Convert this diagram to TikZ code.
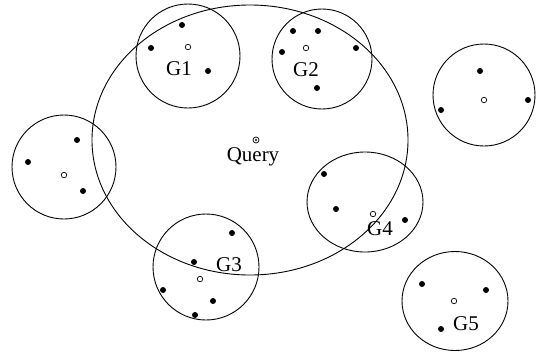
\documentclass[tikz,border=0pt]{standalone}
\usepackage{fontspec}
\setmainfont{Liberation Serif}
\usetikzlibrary{shapes.geometric}
\begin{document}
\begin{tikzpicture}[x=1pt,y=-1pt,
  group/.style={draw,line width=0.9pt,circle,inner sep=0pt},
  full/.style={circle,fill=black,inner sep=0pt,minimum size=6pt},
  hollow/.style={circle,draw,line width=0.7pt,inner sep=0pt,minimum size=5.5pt},
  lbl/.style={font=\fontsize{21}{21}\selectfont,inner sep=0pt}]
\useasboundingbox (0,0) rectangle (537,354);
% query region
\node[draw,line width=0.9pt,ellipse,minimum width=316pt,minimum height=270pt,inner sep=0pt] (range) at (250,140) {};
\node[hollow,minimum size=6pt] (q) at (256,140) {};
\fill (q) circle (1.2pt);
\node[lbl] (qlabel) at (253,157) {Query};
% G1
\node[group,minimum size=104pt] (g1) at (188,56) {};
\node[hollow] (c1) at (188,47) {};
\node[full] (a1) at (182,25) {};
\node[full] (a2) at (151,48) {};
\node[full] (a3) at (208,71) {};
\node[lbl] (l1) at (179,69) {G1};
% G2
\node[group,minimum size=100pt] (g2) at (322,59) {};
\node[hollow] (c2) at (306,48) {};
\node[full] (b1) at (293,31) {};
\node[full] (b2) at (318,31) {};
\node[full] (b3) at (356,48) {};
\node[full] (b4) at (282,52) {};
\node[full] (b5) at (317,88) {};
\node[lbl] (l2) at (306,70) {G2};
% left group
\node[group,minimum size=104pt] (g6) at (64,167) {};
\node[hollow] (c6) at (64,175) {};
\node[full] (d1) at (77,140) {};
\node[full] (d2) at (28,162) {};
\node[full] (d3) at (83,191) {};
% upper right group
\node[group,minimum size=102pt] (g7) at (484,95) {};
\node[hollow] (c7) at (484,100) {};
\node[full] (e1) at (480,71) {};
\node[full] (e2) at (441,110) {};
\node[full] (e3) at (528,100) {};
% G4
\node[draw,line width=0.9pt,ellipse,minimum width=116pt,minimum height=100pt,inner sep=0pt] (g4) at (365,202) {};
\node[hollow] (c4) at (373,214) {};
\node[full] (f1) at (324,174) {};
\node[full] (f2) at (336,209) {};
\node[full] (f3) at (405,220) {};
\node[lbl] (l4) at (380,229) {G4};
% G3
\node[group,minimum size=106pt] (g3) at (206,267) {};
\node[hollow] (c3) at (200,279) {};
\node[full] (h1) at (232,233) {};
\node[full] (h2) at (194,262) {};
\node[full] (h3) at (163,290) {};
\node[full] (h4) at (213,301) {};
\node[full] (h5) at (195,315) {};
\node[lbl] (l3) at (229,265) {G3};
% G5
\node[draw,line width=0.9pt,ellipse,minimum width=106pt,minimum height=99pt,inner sep=0pt] (g5) at (455,301) {};
\node[hollow] (c5) at (454,301) {};
\node[full] (k1) at (422,284) {};
\node[full] (k2) at (486,290) {};
\node[full] (k3) at (441,329) {};
\node[lbl] (l5) at (466,324) {G5};
\end{tikzpicture}
\end{document}
